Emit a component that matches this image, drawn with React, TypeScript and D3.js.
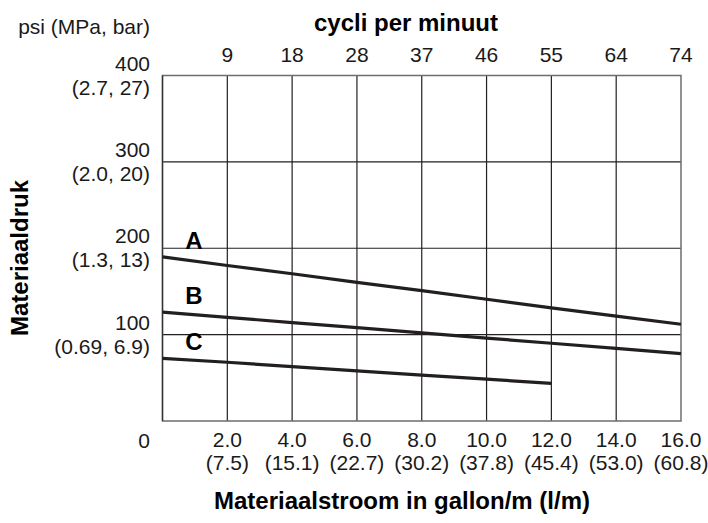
import React, { useEffect, useRef } from 'react';
import * as d3 from 'd3';

// flow in gallon/min, and the matching l/min and cycles per minute
const flowTicks = [2, 4, 6, 8, 10, 12, 14, 16];
const flowLitres = ['(7.5)', '(15.1)', '(22.7)', '(30.2)', '(37.8)', '(45.4)', '(53.0)', '(60.8)'];
const cycleTicks = ['9', '18', '28', '37', '46', '55', '64', '74'];

// pressure in psi, with MPa / bar in brackets
const psiTicks = [400, 300, 200, 100];
const psiMetric = ['(2.7, 27)', '(2.0, 20)', '(1.3, 13)', '(0.69, 6.9)'];

const flowA = [0, 2, 4, 6, 8, 10, 12, 14, 16];
const psiA = [190, 180, 170.5, 160.5, 151, 141, 131, 121.5, 112];
const flowB = [0, 2, 4, 6, 8, 10, 12, 14, 16];
const psiB = [126, 120, 114, 108, 102, 96, 90, 84, 78];
const flowC = [0, 2, 4, 6, 8, 10, 12];
const psiC = [72.5, 68, 63, 58, 53, 48.5, 43.5];

const seriesNames = ['A', 'B', 'C'];

const W = 708;
const H = 523;
const margin = { top: 75.5, right: 27, bottom: 102, left: 162.5 };
const FONT = '"Liberation Sans", Arial, Helvetica, sans-serif';
const TICK = 21;
const TITLE = 24;

const drawChart = (ref) => {
	const svg = d3.select(ref.current);
	svg.selectAll('*').remove();

	const x = d3.scaleLinear().domain([0, 16])
		.range([margin.left, W - margin.right]);
	const y = d3.scaleLinear().domain([0, 400])
		.range([H - margin.bottom, margin.top]);

	const g = svg.append('g').attr('font-family', FONT)
		.attr('fill', '#1a1a1a');

	// grid
	g.append('g').selectAll('line')
		.data(flowTicks.slice(0, -1))
		.enter()
		.append('line')
		.attr('x1', (d) => x(d))
		.attr('x2', (d) => x(d))
		.attr('y1', y(0))
		.attr('y2', y(400))
		.attr('stroke', '#231f20')
		.attr('stroke-width', 1.2);

	g.append('g').selectAll('line')
		.data(psiTicks.slice(1))
		.enter()
		.append('line')
		.attr('x1', x(0))
		.attr('x2', x(16))
		.attr('y1', (d) => y(d))
		.attr('y2', (d) => y(d))
		.attr('stroke', '#231f20')
		.attr('stroke-width', 1.2);

	// frame
	g.append('rect')
		.attr('x', x(0))
		.attr('y', y(400))
		.attr('width', x(16) - x(0))
		.attr('height', y(0) - y(400))
		.attr('fill', 'none')
		.attr('stroke', '#6d6d6d')
		.attr('stroke-width', 1.5);
	g.append('line')
		.attr('x1', x(0))
		.attr('x2', x(0))
		.attr('y1', y(0))
		.attr('y2', y(400))
		.attr('stroke', '#333')
		.attr('stroke-width', 1.3);

	// curves
	const series = [
		{ name: seriesNames[0], pts: flowA.map((f, i) => [f, psiA[i]]) },
		{ name: seriesNames[1], pts: flowB.map((f, i) => [f, psiB[i]]) },
		{ name: seriesNames[2], pts: flowC.map((f, i) => [f, psiC[i]]) },
	];
	const line = d3.line().x((d) => x(d[0]))
		.y((d) => y(d[1]));

	g.append('g').selectAll('path')
		.data(series)
		.enter()
		.append('path')
		.attr('d', (d) => line(d.pts))
		.attr('fill', 'none')
		.attr('stroke', '#231f20')
		.attr('stroke-width', 3.2);

	g.append('g').selectAll('text')
		.data(series)
		.enter()
		.append('text')
		.attr('x', x(0.97))
		.attr('y', (d) => y(d.pts[0][1]) - 8)
		.attr('text-anchor', 'middle')
		.attr('font-size', 24)
		.attr('font-weight', 'bold')
		.attr('fill', '#000')
		.text((d) => d.name);

	// top axis: cycles per minute
	g.append('g').selectAll('text')
		.data(flowTicks)
		.enter()
		.append('text')
		.attr('x', (d) => x(d))
		.attr('y', 62)
		.attr('text-anchor', 'middle')
		.attr('font-size', TICK)
		.text((d, i) => cycleTicks[i]);

	// bottom axis: two lines per tick
	const bottom = g.append('g').selectAll('text')
		.data(flowTicks)
		.enter()
		.append('text')
		.attr('text-anchor', 'middle')
		.attr('font-size', TICK);
	bottom.append('tspan')
		.attr('x', (d) => x(d))
		.attr('y', 447)
		.text((d) => d.toFixed(1));
	bottom.append('tspan')
		.attr('x', (d) => x(d))
		.attr('y', 470)
		.text((d, i) => flowLitres[i]);

	// left axis
	const left = g.append('g').selectAll('text')
		.data(psiTicks)
		.enter()
		.append('text')
		.attr('text-anchor', 'end')
		.attr('font-size', TICK);
	left.append('tspan')
		.attr('x', 150)
		.attr('y', (d) => y(d) - 5)
		.text((d) => d);
	left.append('tspan')
		.attr('x', 150)
		.attr('y', (d) => y(d) + 19)
		.text((d, i) => psiMetric[i]);

	g.append('text')
		.attr('x', 150)
		.attr('y', 448)
		.attr('text-anchor', 'end')
		.attr('font-size', TICK)
		.text('0');

	g.append('text')
		.attr('x', 150)
		.attr('y', 34)
		.attr('text-anchor', 'end')
		.attr('font-size', TICK)
		.text('psi (MPa, bar)');

	// titles
	g.append('text')
		.attr('x', 406)
		.attr('y', 31)
		.attr('text-anchor', 'middle')
		.attr('font-size', TITLE)
		.attr('font-weight', 'bold')
		.attr('fill', '#000')
		.text('cycli per minuut');

	g.append('text')
		.attr('x', 402)
		.attr('y', 509)
		.attr('text-anchor', 'middle')
		.attr('font-size', TITLE)
		.attr('font-weight', 'bold')
		.attr('fill', '#000')
		.text('Materiaalstroom in gallon/m (l/m)');

	g.append('text')
		.attr('transform', 'translate(28, 258) rotate(-90)')
		.attr('text-anchor', 'middle')
		.attr('font-size', TITLE)
		.attr('font-weight', 'bold')
		.attr('fill', '#000')
		.text('Materiaaldruk');
};

const App = () => {
	const ref = useRef(null);

	useEffect(() => {
		document.body.style.margin = '0';
		drawChart(ref);
	}, []);

	return (
		<svg ref={ ref } width={ W } height={ H } style={ { display: 'block', background: '#fff' } }/>
	);
};

export default App;
